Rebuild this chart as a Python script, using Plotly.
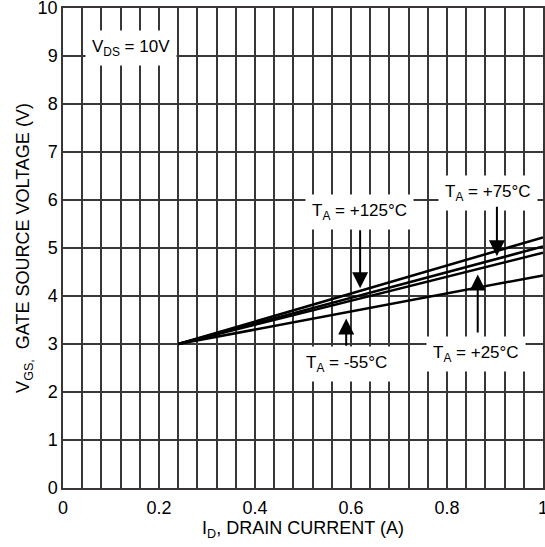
import plotly.graph_objects as go

# Data
id_pts = [0.24, 1.0]
vgs_125 = [3.0, 5.22]
vgs_75 = [3.0, 5.03]
vgs_25 = [3.0, 4.90]
vgs_m55 = [3.0, 4.43]

x_ticks = [0, 0.2, 0.4, 0.6, 0.8, 1]
x_tick_labels = ["0", "0.2", "0.4", "0.6", "0.8", "1"]
y_ticks = list(range(0, 11))

FONT = "Liberation Sans, Arial, sans-serif"
GRID = "#3a3636"

fig = go.Figure()
for ys in [vgs_125, vgs_75, vgs_25, vgs_m55]:
    fig.add_trace(go.Scatter(x=id_pts, y=ys, mode="lines",
                             line=dict(color="black", width=2.5),
                             showlegend=False, hoverinfo="skip"))

ann = []
labels = [
    ("V<sub>DS</sub> = 10V", 0.142, 9.17),
    ("T<sub>A</sub> = +125°C", 0.617, 5.74),
    ("T<sub>A</sub> = +75°C", 0.885, 6.14),
    ("T<sub>A</sub> = +25°C", 0.86, 2.80),
    ("T<sub>A</sub> = -55°C", 0.59, 2.58),
]
for t, x, y in labels:
    ann.append(dict(text=t, x=x, y=y, xref="x", yref="y", showarrow=False,
                    bgcolor="white", borderpad=6,
                    font=dict(family=FONT, size=17, color="black")))

arrows = [
    (0.619, 4.16, 5.40),
    (0.904, 4.83, 5.89),
    (0.864, 4.45, 3.21),
    (0.59, 3.53, 2.93),
]
for x, ytip, ystart in arrows:
    ann.append(dict(text="", x=x, y=ytip, ax=x, ay=ystart, xref="x", yref="y",
                    axref="x", ayref="y", showarrow=True, arrowhead=2,
                    arrowsize=1.6, arrowwidth=2, arrowcolor="black"))

fig.update_layout(
    width=545, height=547,
    margin=dict(l=63, r=2, t=8, b=59, autoexpand=False),
    paper_bgcolor="white", plot_bgcolor="white",
    font=dict(family=FONT, size=17, color="black"),
    annotations=ann,
    xaxis=dict(range=[0, 1], tickvals=x_ticks, ticktext=x_tick_labels,
               showgrid=True, gridcolor=GRID, gridwidth=1.5,
               minor=dict(dtick=0.04, tick0=0, showgrid=True, gridcolor=GRID, gridwidth=1.5),
               showline=True, linecolor=GRID, linewidth=1.5, mirror=True,
               zeroline=False, ticks="", ticklen=0, ticklabeloverflow="allow",
               ticklabelstandoff=3,
               tickfont=dict(family=FONT, size=18),
               title=dict(text="I<sub>D</sub>, DRAIN CURRENT (A)", standoff=3,
                          font=dict(family=FONT, size=18))),
    yaxis=dict(range=[0, 10], tickvals=y_ticks,
               showgrid=True, gridcolor=GRID, gridwidth=1.5,
               showline=True, linecolor=GRID, linewidth=1.5, mirror=True,
               zeroline=False, ticks="", ticklen=0, ticklabeloverflow="allow",
               tickfont=dict(family=FONT, size=18),
               title=dict(text="V<sub>GS,</sub>  GATE SOURCE VOLTAGE (V)", standoff=3,
                          font=dict(family=FONT, size=18))),
)

fig.write_html("out.html", config={"displayModeBar": False},
               post_script="document.body.style.margin='0';")
